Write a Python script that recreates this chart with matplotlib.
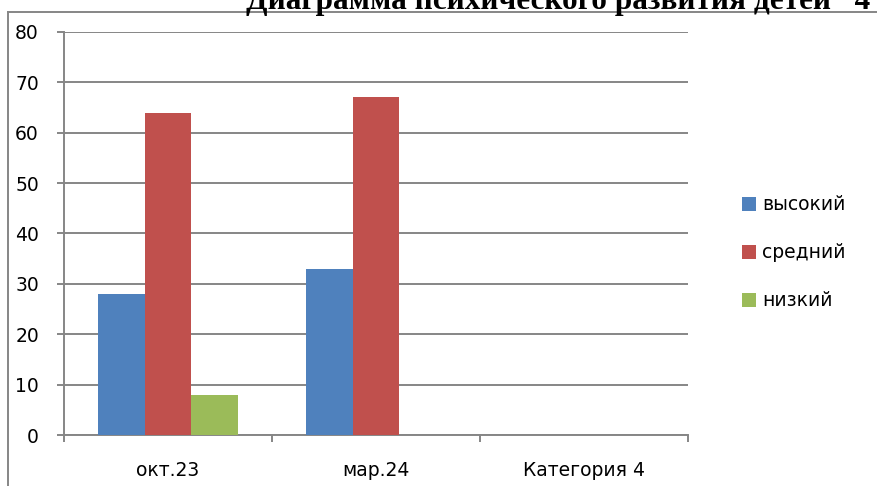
import numpy as np
import matplotlib.pyplot as plt
from matplotlib.lines import Line2D

# data
categories = ["окт.23", "мар.24", "Категория 4"]
series_names = ["высокий", "средний", "низкий"]
vysokiy = [28, 33, np.nan]
sredniy = [64, 67, np.nan]
nizkiy = [8, 0, np.nan]
colors = ["#4F81BD", "#C0504D", "#9BBB59"]
title = "Диаграмма психического развития детей   4"

plt.rcParams["font.family"] = ["DejaVu Sans"]
fs = 13.5
grey = "#868686"

fig = plt.figure(figsize=(8.77, 4.86), dpi=100)
ax = fig.add_axes([64 / 877, 51 / 486, 624 / 877, 403 / 486])

x = np.arange(len(categories))
w = 0.2236
for i, (vals, name) in enumerate(zip([vysokiy, sredniy, nizkiy], series_names)):
    ax.bar(x + (i - 1) * w, vals, width=w, color=colors[i], label=name, zorder=3)

ax.set_xlim(-0.5, len(categories) - 0.5)
ax.set_ylim(0, 80)
ax.set_yticks(range(0, 81, 10))
ax.yaxis.grid(True, color=grey, linewidth=1.4, zorder=0)
ax.tick_params(axis="y", length=5, width=1.4, color=grey, pad=13, labelsize=fs)

ax.set_xticks(x)
ax.set_xticklabels(categories)
ax.set_xticks(np.arange(-0.5, len(categories), 1), minor=True)
ax.tick_params(axis="x", which="major", length=0, pad=19, labelsize=fs)
ax.tick_params(axis="x", which="minor", length=5, width=1.4, color=grey)

for s in ["top", "right"]:
    ax.spines[s].set_visible(False)
for s in ["left", "bottom"]:
    ax.spines[s].set_color(grey)
    ax.spines[s].set_linewidth(1.4)

fig.legend(loc="upper left", bbox_to_anchor=(733 / 877, 1 - 186 / 486),
           frameon=False, fontsize=fs, borderpad=0, handlelength=0.75,
           handleheight=0.75, handletextpad=0.3, labelspacing=1.55)

# outer chart frame (only top and left edges are visible in the crop)
fig.add_artist(Line2D([8 / 877, 8 / 877], [0, 1 - 12 / 486], color=grey, lw=1.4))
fig.add_artist(Line2D([8 / 877, 1], [1 - 12 / 486, 1 - 12 / 486], color=grey, lw=1.4))

fig.text(246 / 877, 1 - 9 / 486, title, family="Liberation Serif",
         fontweight="bold", fontsize=22.5, va="baseline", ha="left")

fig.savefig("out.png", dpi=100)
